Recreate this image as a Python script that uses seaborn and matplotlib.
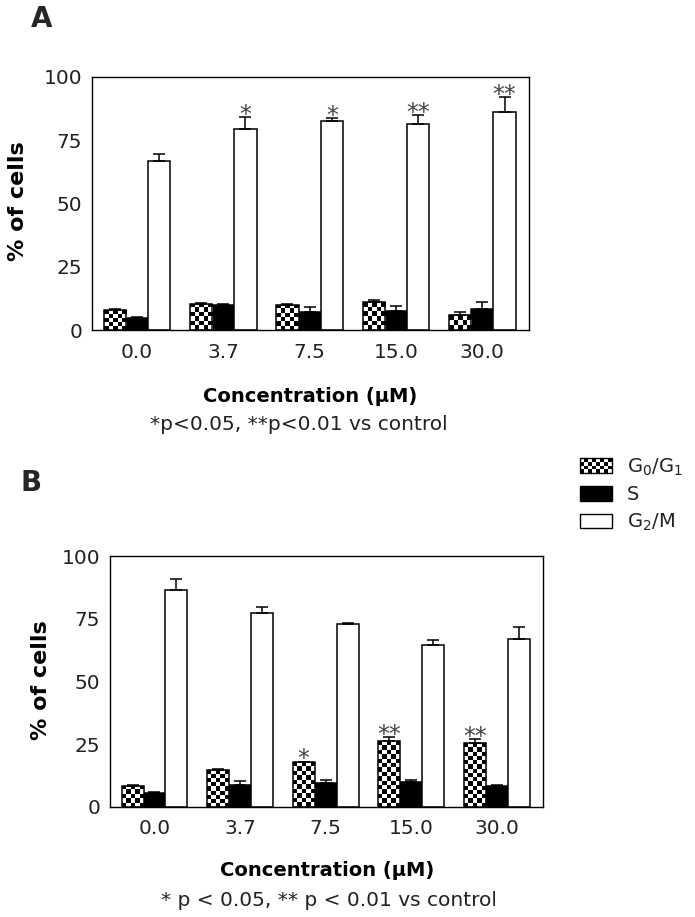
import numpy as np
import pandas as pd
import matplotlib
matplotlib.use('Agg')
import matplotlib.pyplot as plt
import seaborn as sns
from matplotlib.patches import Rectangle, Patch
from matplotlib.legend_handler import HandlerBase

# concentrations (uM) and cell-cycle phases
concs = ['0.0', '3.7', '7.5', '15.0', '30.0']
phases = ['G0/G1', 'S', 'G2/M']

# panel A: mean and SEM, % of cells
a_g0g1 = [7.9, 10.3, 10.0, 10.9, 5.9]
a_g0g1_err = [0.3, 0.3, 0.3, 0.9, 1.1]
a_s = [4.9, 10.0, 7.1, 7.4, 8.2]
a_s_err = [0.2, 0.2, 1.9, 2.1, 2.7]
a_g2m = [66.7, 79.5, 82.5, 81.6, 86.0]
a_g2m_err = [2.8, 4.5, 1.2, 3.3, 6.0]
a_stars_g2m = ['', '*', '*', '**', '**']

# panel B
b_g0g1 = [8.5, 14.6, 17.8, 26.1, 25.4]
b_g0g1_err = [0.3, 0.4, 0.3, 1.6, 1.7]
b_s = [5.6, 8.6, 9.6, 10.0, 8.4]
b_s_err = [0.2, 1.8, 1.3, 0.9, 0.3]
b_g2m = [86.6, 77.1, 72.9, 64.5, 66.9]
b_g2m_err = [4.4, 2.7, 0.4, 2.0, 4.8]
b_stars_g0g1 = ['', '', '*', '**', '**']

yticks = [0, 25, 50, 75, 100]

TXT = '#222222'
CELL = 4.3  # checker cell size in pixels


def make_df(g0g1, s, g2m):
    rows = []
    for i, c in enumerate(concs):
        rows.append((c, 'G0/G1', g0g1[i]))
        rows.append((c, 'S', s[i]))
        rows.append((c, 'G2/M', g2m[i]))
    return pd.DataFrame(rows, columns=['conc', 'phase', 'value'])


def checker_fill(ax, patch):
    x0, y0 = patch.get_x(), patch.get_y()
    w, h = patch.get_width(), patch.get_height()
    p0 = ax.transData.transform((x0, y0))
    p1 = ax.transData.transform((x0 + w, y0 + h))
    ncol = max(1, int(round(abs(p1[0] - p0[0]) / CELL)))
    nrow = max(1, int(round(abs(p1[1] - p0[1]) / CELL)))
    ii, jj = np.indices((nrow, ncol))
    img = ((ii + jj) % 2).astype(float)
    im = ax.imshow(img, cmap='gray', vmin=0, vmax=1, extent=[x0, x0 + w, y0, y0 + h],
                   aspect='auto', interpolation='nearest', origin='upper', zorder=1.5)
    im.set_clip_path(patch)
    patch.set_facecolor('none')
    patch.set_zorder(2)


def draw_panel(fig, rect, g0g1, s, g2m, errs, stars, star_phase):
    ax = fig.add_axes(rect)
    df = make_df(g0g1, s, g2m)
    sns.barplot(data=df, x='conc', y='value', hue='phase', order=concs, hue_order=phases,
                palette={'G0/G1': 'white', 'S': 'black', 'G2/M': 'white'},
                edgecolor='black', linewidth=1.1, saturation=1, errorbar=None,
                width=0.77, legend=False, ax=ax)
    ax.set_xlim(-0.52, 4.54)
    ax.set_ylim(0, 100)
    ax.set_yticks(yticks)
    ax.set_xlabel('')
    ax.set_ylabel('')

    # one-sided SEM bars
    for cont, err in zip(ax.containers, errs):
        for bar, e in zip(cont, err):
            xc = bar.get_x() + bar.get_width() / 2
            ax.errorbar(xc, bar.get_height(), yerr=[[0], [e]], fmt='none',
                        ecolor='black', elinewidth=1.1, capsize=4.5, capthick=1.1, zorder=3)

    for bar in ax.containers[0]:
        checker_fill(ax, bar)

    k = phases.index(star_phase)
    for bar, e, st in zip(ax.containers[k], errs[k], stars):
        if st:
            xc = bar.get_x() + bar.get_width() / 2
            ax.annotate(st, (xc, bar.get_height() + e), xytext=(0, -3.5),
                        textcoords='offset points', ha='center', va='baseline',
                        fontsize=17, color='#444444')

    for sp in ax.spines.values():
        sp.set_visible(True)
        sp.set_color('black')
        sp.set_linewidth(1.0)
    ax.tick_params(axis='y', length=5, width=1.0, labelsize=14.5, labelcolor=TXT, pad=2)
    ax.tick_params(axis='x', length=0, labelsize=14.5, labelcolor=TXT, pad=9)
    return ax


class CheckerHandler(HandlerBase):
    def create_artists(self, legend, orig_handle, xdescent, ydescent, width, height, fontsize, trans):
        arts = [Rectangle((-xdescent, -ydescent), width, height, facecolor='white',
                          edgecolor='black', lw=1.0, transform=trans)]
        nx, ny = 8, 4
        cw, ch = width / nx, height / ny
        for i in range(nx):
            for j in range(ny):
                if (i + j) % 2 == 0:
                    arts.append(Rectangle((-xdescent + i * cw, -ydescent + j * ch), cw, ch,
                                          facecolor='black', lw=0, transform=trans))
        return arts


sns.set_style('white')
plt.rcParams['font.family'] = ['DejaVu Sans']
plt.rcParams['mathtext.default'] = 'regular'

fig = plt.figure(figsize=(6.95, 9.17), dpi=100)
W, H = 695, 917

def frac(l, r, t, b):
    return [l / W, (H - b) / H, (r - l) / W, (b - t) / H]

axA = draw_panel(fig, frac(92, 529, 77, 330), a_g0g1, a_s, a_g2m,
                 [a_g0g1_err, a_s_err, a_g2m_err], a_stars_g2m, 'G2/M')
axB = draw_panel(fig, frac(110, 543, 556, 807), b_g0g1, b_s, b_g2m,
                 [b_g0g1_err, b_s_err, b_g2m_err], b_stars_g0g1, 'G0/G1')

# y labels
fig.text(18 / W, 1 - 201 / H, '% of cells', rotation=90, ha='center', va='center',
         fontsize=16, fontweight='bold', color='black')
fig.text(41 / W, 1 - 680 / H, '% of cells', rotation=90, ha='center', va='center',
         fontsize=16, fontweight='bold', color='black')

# x labels and notes
fig.text(310 / W, 1 - 397 / H, 'Concentration (\u03bcM)', ha='center', va='center',
         fontsize=14, fontweight='bold', color='black')
fig.text(299 / W, 1 - 425 / H, '*p<0.05, **p<0.01 vs control', ha='center', va='center',
         fontsize=14.5, color=TXT)
fig.text(327 / W, 1 - 870 / H, 'Concentration (\u03bcM)', ha='center', va='center',
         fontsize=14, fontweight='bold', color='black')
fig.text(329 / W, 1 - 900 / H, '* p < 0.05, ** p < 0.01 vs control', ha='center', va='center',
         fontsize=14.5, color=TXT)

# panel letters
fig.text(42 / W, 1 - 19 / H, 'A', ha='center', va='center', fontsize=20, fontweight='bold')
fig.text(31 / W, 1 - 483 / H, 'B', ha='center', va='center', fontsize=20, fontweight='bold')

# legend
handles = [Patch(facecolor='white', edgecolor='black'),
           Patch(facecolor='black', edgecolor='black'),
           Patch(facecolor='white', edgecolor='black', linewidth=1.0)]
labels = ['G$_0$/G$_1$', 'S', 'G$_2$/M']
fig.legend(handles, labels, loc='upper left', bbox_to_anchor=(562 / W, 1 - 439 / H),
           frameon=False, fontsize=14, handlelength=1.65, handleheight=0.78,
           handletextpad=0.8, labelspacing=0.38, labelcolor=TXT,
           handler_map={handles[0]: CheckerHandler()})

fig.savefig('out.png', dpi=100)
